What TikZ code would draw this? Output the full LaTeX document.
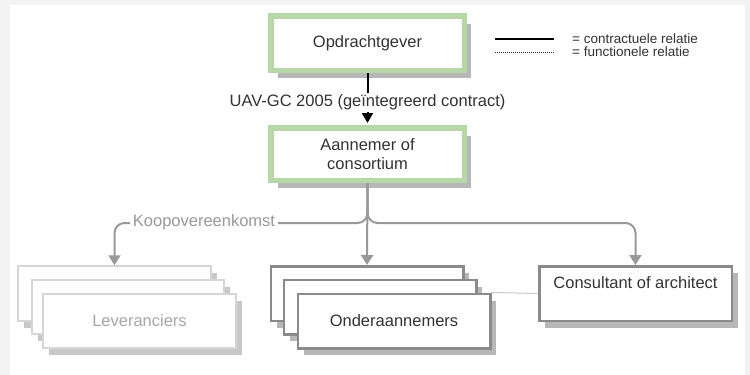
\documentclass[tikz,border=0pt]{standalone}
\usepackage{fontspec}
\setmainfont{Liberation Sans}
\usetikzlibrary{shadows,arrows.meta}

\definecolor{boxgreen}{HTML}{B6D7A8}
\definecolor{shadowgray}{HTML}{B7B7B7}
\definecolor{lightshadow}{HTML}{C8C8C8}
\definecolor{linegray}{HTML}{999999}
\definecolor{darkborder}{HTML}{8A8A8A}
\definecolor{lightborder}{HTML}{D6D6D6}
\definecolor{fadedtext}{HTML}{A6A6A6}
\definecolor{darktext}{HTML}{333333}
\definecolor{pagegray}{HTML}{F3F3F3}

\begin{document}
\begin{tikzpicture}[x=1pt,y=-1pt,
  boxtext/.style={font=\fontsize{16.5}{19.5}\selectfont},
  mainbox/.style={draw=boxgreen, line width=5.5pt, fill=white,
    minimum width=193.5pt, inner sep=0pt, align=center, text=darktext, boxtext,
    drop shadow={shadow xshift=7pt, shadow yshift=-8pt, fill=shadowgray, opacity=1}},
  stackbox/.style={draw=darkborder, line width=2.5pt, fill=white,
    minimum width=192.5pt, minimum height=54.5pt, inner sep=0pt, text=darktext, boxtext,
    drop shadow={shadow xshift=6pt, shadow yshift=-7pt, fill=shadowgray, opacity=1}},
  fadedbox/.style={stackbox, draw=lightborder, line width=2pt, text=fadedtext,
    drop shadow={shadow xshift=6pt, shadow yshift=-7pt, fill=lightshadow, opacity=1}},
  contract/.style={line width=2pt, draw=black, -{Triangle[length=10pt,width=11pt]}},
  branch/.style={line width=2pt, draw=linegray, rounded corners=10pt,
    -{Triangle[length=10pt,width=12pt]}},
  functional/.style={line width=1pt, draw=linegray, dash pattern=on 1pt off 1pt},
  legendtext/.style={font=\fontsize{13.5}{15}\selectfont, text=darktext, anchor=west, inner sep=0pt},
]
% page background
\fill[pagegray] (0,0) rectangle (750,375);
\fill[white] (10,5) rectangle (745,375);
\useasboundingbox (0,0) rectangle (750,375);

% client and contractor
\node[mainbox, minimum height=54.5pt] (opdr) at (367.5,43) {Opdrachtgever};
\node[mainbox, minimum height=52.5pt] (aann) at (367.5,154) {Aannemer of\\consortium};

% suppliers
\node[fadedbox] (lev1) at (114.5,293.5) {};
\node[fadedbox] (lev2) at (128,307) {};
\node[fadedbox] (lev3) at (139.5,321) {Leveranciers};

% subcontractors
\node[stackbox] (ond1) at (367,293.5) {};
\node[stackbox] (ond2) at (380,307) {};
\node[stackbox] (ond3) at (394,321) {Onderaannemers};

% consultant
\node[stackbox] (cons) at (635.5,293.5) {};
\node[boxtext, text=darktext, anchor=north, inner sep=0pt] (consl) at ([yshift=-11pt]cons.north) {Consultant of architect};

% contractual relation between client and contractor
\draw[contract, shorten >=2pt] (opdr.south) -- (aann.north)
  node[pos=0.57, fill=white, inner sep=2pt, boxtext, text=darktext] (uav) {UAV-GC 2005 (geïntegreerd contract)};

% contractor to suppliers, subcontractors and consultant
\coordinate (split) at (367.5,223);
\draw[branch] (aann.south) -- (split) -- (split -| lev1.north) -- (lev1.north);
\draw[branch] (aann.south) -- (split) -- (split -| cons.north) -- (cons.north);
\draw[branch] (aann.south) -- (ond1.north);
\node[fill=white, inner sep=3pt, boxtext, text=linegray] (koop) at (204,222) {Koopovereenkomst};

% functional relation
\draw[functional] (ond3.north east) -- (cons.west);

% legend
\coordinate (la1) at (495,39);
\coordinate (la2) at (554,39);
\coordinate (lb1) at (495,52);
\coordinate (lb2) at (554,52);
\draw[line width=1.5pt, black] (la1) -- (la2);
\draw[line width=1pt, black!80, dash pattern=on 1pt off 1pt] (lb1) -- (lb2);
\node[legendtext] (lta) at (572,38.5) {= contractuele relatie};
\node[legendtext] (ltb) at (572,52) {= functionele relatie};
\end{tikzpicture}
\end{document}
